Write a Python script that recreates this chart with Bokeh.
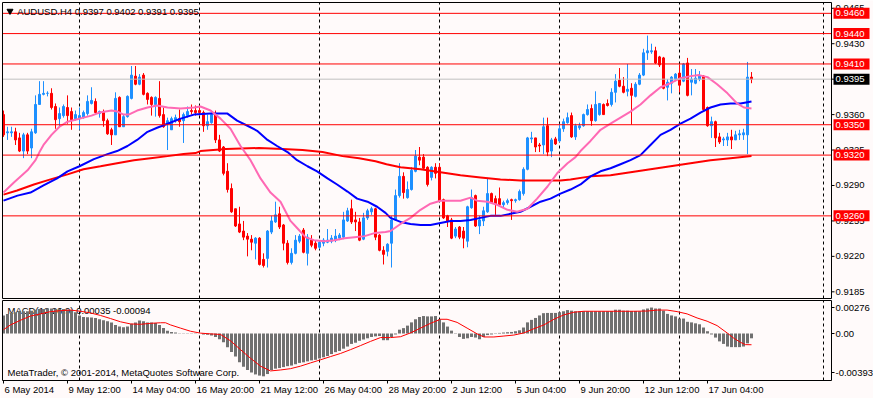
from bokeh.plotting import figure
from bokeh.models import Range1d, ColumnDataSource
from bokeh.embed import file_html
from bokeh.resources import INLINE
from bokeh.core.properties import value

# ---------------- data (AUDUSD H4) ----------------
opens = [
    .9360, .9342, .9342, .9343, .9337, .9324, .9340, .9327, .9342, .9370,
    .9380, .9381, .9381, .9368, .9356, .9359, .9367, .9363, .9356, .9356,
    .9357, .9361, .9371, .9373, .9361, .9362, .9354, .9345, .9340, .9377,
    .9348, .9358, .9376, .9398, .9390, .9399, .9381, .9377, .9370, .9376,
    .9360, .9351, .9345, .9354, .9356, .9354, .9359, .9364, .9364, .9364,
    .9362, .9349, .9352, .9360, .9335, .9328, .9304, .9287, .9267, .9252,
    .9245, .9240, .9237, .9233, .9238, .9217, .9218, .9244, .9254, .9262,
    .9251, .9233, .9214, .9223, .9235, .9246, .9223, .9236, .9233, .9229,
    .9233, .9234, .9235, .9236, .9238, .9239, .9255, .9267, .9256, .9254,
    .9237, .9258, .9264, .9267, .9241, .9226, .9225, .9233, .9256, .9280,
    .9299, .9278, .9286, .9304, .9318, .9318, .9308, .9298, .9308, .9308,
    .9276, .9260, .9256, .9240, .9249, .9245, .9235, .9268, .9280, .9250,
    .9255, .9264, .9282, .9277, .9277, .9271, .9273, .9276, .9275, .9276,
    .9282, .9306, .9336, .9337, .9330, .9330, .9349, .9324, .9336, .9334,
    .9346, .9352, .9359, .9338, .9347, .9349, .9360, .9366, .9354, .9360,
    .9370, .9371, .9370, .9382, .9394, .9388, .9383, .9386, .9378, .9390,
    .9399, .9421, .9422, .9423, .9417, .9416, .9387, .9391, .9395, .9401,
    .9393, .9411, .9392, .9391, .9395, .9398, .9367, .9349, .9353, .9338,
    .9335, .9335, .9338, .9335, .9340, .9340, .9340, .9397]
highs = [
    .9364, .9348, .9348, .9347, .9342, .9342, .9342, .9346, .9379, .9393,
    .9393, .9383, .9386, .9371, .9367, .9370, .9379, .9367, .9364, .9367,
    .9364, .9379, .9387, .9376, .9364, .9365, .9356, .9347, .9382, .9378,
    .9360, .9379, .9408, .9408, .9400, .9401, .9382, .9378, .9378, .9393,
    .9367, .9357, .9358, .9360, .9365, .9362, .9368, .9370, .9369, .9369,
    .9364, .9360, .9364, .9364, .9340, .9329, .9312, .9292, .9267, .9269,
    .9255, .9243, .9241, .9239, .9239, .9223, .9246, .9260, .9274, .9269,
    .9252, .9236, .9228, .9241, .9242, .9248, .9242, .9241, .9236, .9236,
    .9238, .9247, .9241, .9247, .9243, .9264, .9268, .9276, .9264, .9258,
    .9263, .9267, .9269, .9268, .9242, .9230, .9233, .9260, .9286, .9312,
    .9303, .9294, .9308, .9325, .9328, .9321, .9309, .9309, .9312, .9312,
    .9277, .9261, .9258, .9249, .9250, .9249, .9270, .9286, .9281, .9260,
    .9269, .9297, .9283, .9280, .9288, .9275, .9277, .9277, .9277, .9286,
    .9308, .9338, .9343, .9337, .9332, .9357, .9357, .9337, .9338, .9351,
    .9356, .9362, .9362, .9351, .9352, .9361, .9370, .9370, .9383, .9371,
    .9371, .9375, .9386, .9400, .9406, .9397, .9410, .9391, .9392, .9401,
    .9425, .9438, .9430, .9427, .9418, .9417, .9395, .9398, .9401, .9409,
    .9411, .9416, .9405, .9405, .9403, .9399, .9368, .9358, .9354, .9342,
    .9338, .9342, .9345, .9344, .9345, .9346, .9412, .9402]
lows = [
    .9338, .9335, .9338, .9330, .9323, .9317, .9321, .9317, .9341, .9370,
    .9379, .9378, .9365, .9346, .9348, .9357, .9351, .9345, .9354, .9345,
    .9356, .9359, .9370, .9361, .9357, .9348, .9340, .9330, .9340, .9348,
    .9348, .9357, .9375, .9389, .9389, .9379, .9370, .9359, .9358, .9357,
    .9347, .9325, .9345, .9352, .9348, .9332, .9357, .9360, .9359, .9359,
    .9343, .9345, .9351, .9332, .9323, .9300, .9283, .9263, .9249, .9243,
    .9236, .9220, .9226, .9217, .9211, .9209, .9209, .9242, .9253, .9247,
    .9226, .9212, .9212, .9222, .9233, .9223, .9211, .9229, .9226, .9227,
    .9230, .9233, .9233, .9234, .9236, .9237, .9254, .9252, .9245, .9235,
    .9236, .9256, .9261, .9236, .9225, .9212, .9220, .9209, .9255, .9278,
    .9277, .9277, .9285, .9303, .9310, .9306, .9289, .9295, .9297, .9274,
    .9257, .9249, .9237, .9238, .9237, .9228, .9229, .9267, .9249, .9242,
    .9250, .9263, .9272, .9261, .9270, .9268, .9271, .9256, .9273, .9275,
    .9280, .9305, .9332, .9323, .9323, .9321, .9319, .9318, .9330, .9333,
    .9343, .9351, .9337, .9335, .9345, .9348, .9359, .9349, .9353, .9359,
    .9360, .9368, .9368, .9372, .9387, .9381, .9378, .9350, .9377, .9389,
    .9398, .9414, .9420, .9410, .9407, .9385, .9374, .9381, .9393, .9382,
    .9392, .9378, .9379, .9390, .9393, .9364, .9348, .9337, .9328, .9331,
    .9329, .9329, .9326, .9335, .9335, .9335, .9321, .9391]
closes = [
    .9340, .9343, .9343, .9335, .9324, .9340, .9324, .9343, .9370, .9380,
    .9381, .9381, .9367, .9355, .9361, .9368, .9359, .9355, .9360, .9359,
    .9362, .9373, .9374, .9362, .9363, .9354, .9341, .9340, .9376, .9348,
    .9358, .9378, .9399, .9390, .9397, .9380, .9375, .9370, .9377, .9359,
    .9348, .9354, .9356, .9357, .9353, .9360, .9363, .9363, .9362, .9362,
    .9349, .9353, .9360, .9335, .9324, .9302, .9286, .9264, .9250, .9244,
    .9239, .9237, .9234, .9238, .9212, .9211, .9245, .9255, .9261, .9249,
    .9233, .9214, .9223, .9236, .9240, .9224, .9239, .9231, .9228, .9234,
    .9236, .9236, .9238, .9240, .9241, .9256, .9265, .9254, .9254, .9236,
    .9258, .9265, .9267, .9239, .9226, .9222, .9232, .9256, .9280, .9299,
    .9283, .9286, .9305, .9319, .9315, .9307, .9291, .9308, .9302, .9275,
    .9258, .9255, .9238, .9247, .9239, .9238, .9269, .9278, .9250, .9256,
    .9265, .9282, .9273, .9272, .9271, .9273, .9275, .9275, .9276, .9284,
    .9306, .9337, .9337, .9328, .9329, .9348, .9323, .9335, .9331, .9346,
    .9353, .9357, .9338, .9349, .9349, .9360, .9365, .9354, .9370, .9371,
    .9360, .9369, .9382, .9393, .9388, .9382, .9385, .9379, .9390, .9399,
    .9421, .9423, .9423, .9411, .9409, .9386, .9392, .9397, .9400, .9389,
    .9410, .9379, .9395, .9396, .9398, .9365, .9349, .9353, .9337, .9333,
    .9336, .9338, .9335, .9340, .9341, .9342, .9397, .9395]

# moving averages (sampled along the bar axis)
pink_x = [0, 2.6, 6, 8, 9, 10, 12, 14, 16, 18, 20, 22, 24, 27, 28.5, 30, 31.3, 33.4, 36, 38.4,
          41, 44.3, 47.6, 49.25, 51.75, 54.25, 56.75, 59.25, 61.75, 64.25, 66.75, 69.25, 71.75,
          73.4, 75.5, 77.6, 80.25, 82.75, 85.25, 87.75, 90.25, 92.75, 95.5, 96.75, 99.25, 101.75,
          104.25, 106.75, 109.25, 111.75, 114.25, 116.75, 118.4, 121, 123.4, 126, 128.4, 131,
          133.4, 136, 138.4, 141, 143, 144.25, 146.75, 149.25, 151.75, 154.25, 156.75, 159.25,
          161.75, 164.25, 166.75, 169.25, 171.75, 173.9, 176, 178.4, 181, 183.4, 185.1, 187]
pink_y = [.9283, .9293, .9305, .9315, .9323, .9330, .9340, .9348, .9353, .9355, .9357, .9359,
          .9362, .9364, .9363, .9360, .9360, .9364, .9367, .9369, .9367, .9366, .9367, .9368,
          .9364, .9356, .9346, .9329, .9315, .9297, .9283, .9274, .9255, .9248, .9239, .9236,
          .9235, .9236, .9238, .9239, .9240, .9243, .9244, .9245, .9252, .9258, .9266, .9272,
          .9275, .9275, .9275, .9278, .9275, .9274, .9271, .9266, .9264, .9267, .9277, .9289,
          .9302, .9312, .9318, .9324, .9334, .9345, .9351, .9357, .9363, .9370, .9379, .9387,
          .9391, .9396, .9398, .9399, .9397, .9390, .9381, .9371, .9367, .9366]
blue_x = [0, 3.5, 6.75, 10, 13.4, 16, 19, 22.6, 26, 28.4, 31, 33.4, 36, 38.4, 41, 44.3, 47.6,
          51.75, 56, 58.4, 61, 63.4, 66, 68.4, 71, 73.4, 76, 78.4, 81, 83.4, 86, 88.4, 91, 93.4,
          95.5, 96.75, 99.25, 101.75, 104.25, 106.75, 109.25, 111.75, 114.25, 116.75, 119.25,
          121.75, 124.25, 126.75, 129.25, 131.75, 134.25, 136.75, 139.25, 141.75, 144.25, 146.75,
          149.25, 151.75, 154.25, 156.75, 159.25, 161.75, 164.25, 166.75, 169.25, 171.75, 174.25,
          176.75, 179.25, 181.75, 184.25, 187]
blue_y = [.9275, .9280, .9283, .9290, .9297, .9304, .9309, .9316, .9321, .9324, .9329, .9335,
          .9343, .9347, .9351, .9356, .9360, .9361, .9361, .9354, .9349, .9344, .9335, .9329,
          .9323, .9315, .9309, .9304, .9297, .9291, .9284, .9277, .9274, .9269, .9263, .9258,
          .9254, .9252, .9251, .9251, .9253, .9255, .9255, .9256, .9258, .9260, .9260, .9262,
          .9264, .9269, .9274, .9277, .9282, .9286, .9291, .9299, .9304, .9307, .9311, .9315,
          .9320, .9330, .9340, .9345, .9351, .9356, .9362, .9367, .9370, .9371, .9371, .9373]
red_x = [0, 3.4, 7.6, 11.75, 16, 20, 24.25, 28.4, 32.6, 36.75, 41, 45, 48, 49.25, 55.6, 63.9,
         69.75, 74.75, 79.75, 84.75, 88.9, 93, 95.75, 99.25, 104.25, 109.25, 114.25, 119.25,
         124.25, 129.25, 134.25, 139.25, 141.75, 146.75, 151.75, 156.75, 161.75, 166.75, 171.75,
         176.75, 181.75, 187]
red_y = [.9281, .9285, .9291, .9296, .9301, .9306, .9309, .9312, .9315, .9317, .9319, .9321,
         .9322, .9324, .9326, .9327, .9326, .9325, .9323, .9319, .9317, .9314, .9311, .9308,
         .9306, .9303, .9300, .9298, .9296, .9295, .9295, .9295, .9296, .9299, .9300, .9303,
         .9306, .9309, .9312, .9315, .9317, .9319]

# MACD histogram (one value per bar) and signal line
macd_hist = [
    .00151, .00164, .00172, .00178, .00183, .00186, .00186, .00191, .00199, .00204,
    .00204, .00209, .00209, .00204, .00204, .00204, .00199, .00196, .00178, .00151,
    .00138, .00135, .00133, .00130, .00119, .00111, .00103, .00093, .00072, .00058,
    .00053, .00058, .00082, .00093, .00109, .00103, .00093, .00093, .00087, .00072,
    .00045, .00024, .00013, .00008, .00003, -.00003, -.00003, .00003, .00003, 0.0,
    -.00008, -.00011, -.00016, -.00029, -.00048, -.00074, -.00114, -.00154, -.00193, -.00241,
    -.00278, -.00305, -.00326, -.00342, -.00352, -.00358, -.00339, -.00305, -.00294, -.00289,
    -.00281, -.00273, -.00268, -.00257, -.00246, -.00241, -.00233, -.00225, -.00220, -.00209,
    -.00199, -.00188, -.00172, -.00156, -.00146, -.00127, -.00109, -.00087, -.00077, -.00061,
    -.00050, -.00040, -.00029, -.00024, -.00021, -.00056, -.00056, -.00029, -.00008, .00032,
    .00045, .00066, .00093, .00119, .00138, .00146, .00143, .00143, .00146, .00119,
    .00093, .00058, .00024, -.00003, -.00029, -.00045, -.00040, -.00029, -.00034, -.00048,
    -.00029, -.00013, -.00008, -.00003, .00005, .00008, .00011, .00013, .00019, .00027,
    .00050, .00093, .00114, .00130, .00151, .00170, .00172, .00172, .00172, .00178,
    .00186, .00196, .00191, .00186, .00186, .00186, .00186, .00186, .00186, .00186,
    .00186, .00186, .00188, .00199, .00199, .00191, .00191, .00188, .00188, .00186,
    .00201, .00209, .00217, .00209, .00209, .00191, .00164, .00151, .00143, .00125,
    .00125, .00098, .00093, .00085, .00077, .00050, .00019, -.00008, -.00034, -.00066,
    -.00087, -.00109, -.00114, -.00114, -.00114, -.00109, -.00082, -.00040]
sig_x = [0, 1.75, 4.25, 6.75, 9.25, 11.75, 14.25, 16.75, 19.25, 21.75, 24.25, 26.75, 29.25,
         31.75, 34.25, 36.75, 39.25, 40.5, 41.75, 44.25, 46.75, 49.25, 51.75, 54.25, 56.75,
         59.25, 61.75, 64.25, 66.75, 69.25, 71.75, 74.25, 76.75, 79.25, 81.75, 84.25, 86.75,
         89.25, 91.75, 94.25, 96.75, 99.25, 101.75, 104.25, 106.75, 109.25, 110.9, 113.4, 115.9,
         118.4, 120.1, 122.6, 125.1, 127.6, 130.1, 132.6, 135.1, 137.6, 140.1, 142.6, 145.1,
         147.6, 152.6, 157.6, 161, 163.4, 165.9, 168.4, 170.9, 173.4, 175.9, 178.4, 180.9,
         182.6, 184.25, 185.5, 187]
sig_y = [.00032, .00072, .00111, .00146, .00164, .00183, .00191, .00196, .00186, .00172,
         .00151, .00125, .00098, .00080, .00077, .00085, .00090, .00090, .00072, .00045,
         .00019, .00003, -.00003, -.00008, -.00061, -.00135, -.00207, -.00273, -.00313, -.00305,
         -.00294, -.00273, -.00246, -.00220, -.00193, -.00167, -.00135, -.00101, -.00066, -.00034,
         -.00034, -.00027, .00005, .00045, .00085, .00119, .00119, .00093, .00045, -.00003,
         -.00029, -.00029, -.00021, -.00013, .00005, .00040, .00072, .00119, .00156, .00178,
         .00186, .00186, .00186, .00186, .00188, .00196, .00196, .00183, .00164, .00130,
         .00103, .00066, .00005, -.00040, -.00074, -.00093, -.00094]

price_ticks = [0.9185, 0.9220, 0.9255, 0.9290, 0.9325, 0.9360, 0.9395, 0.9430, 0.9465]
hlines = [0.9460, 0.9440, 0.9410, 0.9350, 0.9320, 0.9260]
time_ticks = [0, 16, 32, 48, 64, 80, 96, 112, 128, 144, 160, 176]
time_labels = ["6 May 2014", "9 May 12:00", "14 May 04:00", "16 May 20:00", "21 May 12:00",
               "26 May 04:00", "28 May 20:00", "2 Jun 12:00", "5 Jun 04:00", "9 Jun 20:00",
               "12 Jun 12:00", "17 Jun 04:00"]
week_starts = [19, 49, 79, 109, 139, 169, 205]
price_max, price_min = 0.94707, 0.91784
macd_max, macd_min = 0.00276, -0.00393
macd_text = "MACD(12,26,9) 0.00035 -0.00094"
symbol = "AUDUSD.H4"
copyright_text = "MetaTrader, \u00a9 2001-2014, MetaQuotes Software Corp."

assert len(opens) == len(highs) == len(lows) == len(closes) == len(macd_hist) == 188

# ---------------- layout / style ----------------
FONT = "Liberation Sans"
FS = "9.5px"
BG = "#FFFAFA"
BULL = "#1E90FF"
BEAR = "#FF0000"
HIST = "#707070"

W, H = 873, 398          # frame size in px
PXB = 4.0                # px per bar
LEFT_PX, RIGHT_PX = 2, 831
MAIN_TOP, MAIN_BOT = 2, 298
MACD_TOP, MACD_BOT = 300, 380

x0 = -0.25 - LEFT_PX / PXB
x_end = x0 + W / PXB
x_left = x0 + LEFT_PX / PXB
x_right = x0 + RIGHT_PX / PXB
bx = lambda px: px / PXB

ppu = (MAIN_BOT - MAIN_TOP) / (price_max - price_min)
mppu = (MACD_BOT - MACD_TOP) / (macd_max - macd_min)
py = lambda px: px / ppu
my = lambda px: px / mppu

y_top = price_max + py(MAIN_TOP)
y_bot = price_max - py(H - MAIN_TOP)
m_top = macd_max + my(MACD_TOP)
m_bot = macd_max - my(H - MACD_TOP)

p = figure(frame_width=W, frame_height=H, x_range=Range1d(x0, x_end),
           y_range=Range1d(y_bot, y_top), output_backend="svg", toolbar_location=None,
           x_axis_location=None, y_axis_location=None, min_border=0)
p.extra_y_ranges = {"macd": Range1d(m_bot, m_top)}
p.background_fill_color = BG
p.border_fill_color = BG
p.outline_line_color = None
p.grid.visible = False

TXT = dict(text_font=value(FONT), text_font_size=FS, text_baseline="middle", text_align="left")

# --- dashed weekly grid in both panels
nw = len(week_starts)
p.segment(x0=week_starts, y0=[price_min] * nw, x1=week_starts, y1=[price_max] * nw,
          line_color="black", line_dash="3 3", line_width=1)
p.segment(x0=week_starts, y0=[macd_min] * nw, x1=week_starts, y1=[macd_max] * nw,
          line_color="black", line_dash="3 3", line_width=1, y_range_name="macd")

# --- candles
n = len(opens)
idx = list(range(n))
colors = [BULL if c >= o else BEAR for o, c in zip(opens, closes)]
src = ColumnDataSource(dict(
    x=idx, h=highs, l=lows,
    top=[max(o, c) for o, c in zip(opens, closes)],
    bot=[min(o, c) for o, c in zip(opens, closes)],
    color=colors))
p.segment(x0="x", y0="l", x1="x", y1="h", line_color="color", line_width=1, source=src)
p.vbar(x="x", width=0.5, top="top", bottom="bot", fill_color="color",
       line_color="color", line_width=1, source=src)

# --- moving averages
p.line(red_x, red_y, line_color="#FF0000", line_width=2)
p.line(blue_x, blue_y, line_color="#0000FF", line_width=2)
p.line(pink_x, pink_y, line_color="#FF69B4", line_width=2)

# --- horizontal levels and bid line
nh = len(hlines)
p.segment(x0=[x_left] * nh, y0=hlines, x1=[x_right] * nh, y1=hlines, line_color="#FF0000", line_width=1)
p.segment(x0=[x_left], y0=[closes[-1]], x1=[x_right], y1=[closes[-1]], line_color="#C0C0C0", line_width=1)

# --- header: small down-triangle + symbol and last bar OHLC (right edge anchored)
header = "%s  %.4f %.4f %.4f %.4f" % (symbol, opens[-1], highs[-1], lows[-1], closes[-1])
p.scatter(x=[x0 + bx(9.5)], y=[price_max - py(8.5)], marker="inverted_triangle", size=6,
          fill_color="black", line_color="black")
p.text(x=[x0 + bx(201)], y=[price_max - py(8.5)], text=[header], text_color="black",
       text_font=value(FONT), text_font_size=FS, text_baseline="middle", text_align="right")

# --- MACD panel
p.text(x=[x0 + bx(7)], y=[macd_max - my(9.5)], text=[macd_text], text_color="black",
       y_range_name="macd", **TXT)
p.vbar(x=idx, top=macd_hist, bottom=0, width=0.75, fill_color=HIST, line_color=None,
       y_range_name="macd")
p.line(sig_x, sig_y, line_color="#FF0000", line_width=1, y_range_name="macd")
p.text(x=[x0 + bx(7)], y=[macd_min + my(8)], text=[copyright_text], text_color="black",
       y_range_name="macd", **TXT)

# --- panel borders
p.quad(left=[x_left], right=[x_right], top=[price_max], bottom=[price_min],
       fill_color=None, line_color="black", line_width=1)
p.quad(left=[x_left], right=[x_right], top=[macd_max], bottom=[macd_min],
       fill_color=None, line_color="black", line_width=1, y_range_name="macd")

# --- price scale (right)
npt = len(price_ticks)
p.segment(x0=[x_right] * npt, y0=price_ticks, x1=[x_right + bx(3)] * npt, y1=price_ticks,
          line_color="black", line_width=1)
p.text(x=[x_right + bx(4)] * npt, y=price_ticks, text=["%.4f" % t for t in price_ticks],
       text_color="black", **TXT)

box_l, box_r = x_right + bx(2), x_right + bx(38)
p.quad(left=[box_l] * nh, right=[box_r] * nh, top=[h + py(5.5) for h in hlines],
       bottom=[h - py(5.5) for h in hlines], fill_color="#FF0000", line_color=None)
p.text(x=[x_right + bx(4)] * nh, y=hlines, text=["%.4f" % h for h in hlines],
       text_color="white", **TXT)
p.quad(left=[box_l], right=[box_r], top=[closes[-1] + py(5.5)], bottom=[closes[-1] - py(5.5)],
       fill_color="#000000", line_color=None)
p.text(x=[x_right + bx(4)], y=[closes[-1]], text=["%.4f" % closes[-1]], text_color="white", **TXT)

# --- MACD scale (right): labels inset from panel edges like the terminal does
macd_label_pos = [macd_max - my(7), 0.0, macd_min + my(8)]
p.segment(x0=[x_right] * 3, y0=macd_label_pos, x1=[x_right + bx(3)] * 3, y1=macd_label_pos,
          line_color="black", line_width=1, y_range_name="macd")
p.text(x=[x_right + bx(4)] * 3, y=macd_label_pos,
       text=["%.5f" % macd_max, "0.00", "%.5f" % macd_min],
       text_color="black", y_range_name="macd", **TXT)

# --- time scale (bottom)
nt = len(time_ticks)
p.segment(x0=time_ticks, y0=[macd_min] * nt, x1=time_ticks, y1=[macd_min - my(3)] * nt,
          line_color="black", line_width=1, y_range_name="macd")
p.text(x=[t + bx(1) for t in time_ticks], y=[macd_min - my(9)] * nt, text=time_labels,
       text_color="black", y_range_name="macd", **TXT)

open("out.html", "w").write(file_html(p, INLINE, title="AUDUSD.H4"))
